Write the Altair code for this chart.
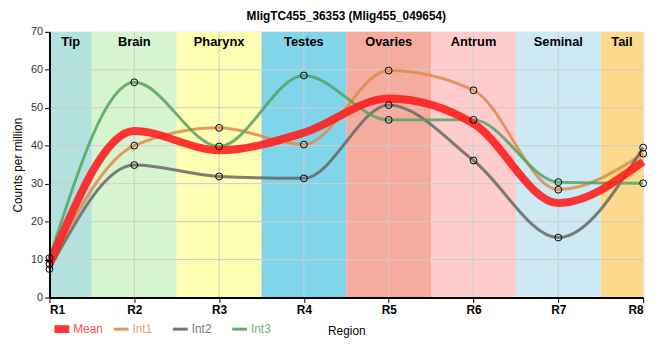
import altair as alt
import pandas as pd

# ---- data ----
regions = ["R1", "R2", "R3", "R4", "R5", "R6", "R7", "R8"]
tissues = ["Tip", "Brain", "Pharynx", "Testes", "Ovaries", "Antrum", "Seminal", "Tail"]
tissue_colors = ["#b3e2de", "#d6f5cf", "#feffb3", "#80d5eb",
                 "#f5ac9f", "#fdcdcd", "#cdeaf4", "#fdd98c"]
int1 = [8.8, 40.0, 44.7, 40.3, 59.8, 54.6, 28.4, 37.9]
int2 = [7.5, 34.9, 31.9, 31.4, 50.7, 36.1, 15.8, 39.5]
int3 = [10.4, 56.7, 39.8, 58.5, 46.8, 46.8, 30.4, 30.1]
series_names = ["Int1", "Int2", "Int3"]
series_colors = ["#e08a48", "#676767", "#55a163"]
legend_text_colors = ["#ff5252", "#e9a06c", "#777777", "#6aae78"]
mean_name = "Mean"
mean_color = "#ff1f1f"
y_ticks = [0, 10, 20, 30, 40, 50, 60, 70]
title_text = "MligTC455_36353 (Mlig455_049654)"

n = len(regions)
idx = list(range(1, n + 1))
series_vals = [int1, int2, int3]
mean_vals = [sum(v[i] for v in series_vals) / len(series_vals) for i in range(n)]

long_df = pd.DataFrame(
    [{"x": idx[i], "value": vals[i], "series": name}
     for name, vals in zip(series_names, series_vals) for i in range(n)]
)
mean_df = pd.DataFrame({"x": idx, "value": mean_vals})
band_df = pd.DataFrame({
    "tissue": tissues,
    "start": [max(1, i - 0.5) for i in idx],
    "end": [min(n, i + 0.5) for i in idx],
})
band_df["mid"] = (band_df["start"] + band_df["end"]) / 2
ygrid_df = pd.DataFrame({"y": y_ticks[1:-1]})
xgrid_df = pd.DataFrame({"x": idx[1:-1]})

label_expr = "[" + ",".join(f"'{r}'" for r in regions) + "][datum.value-1]"
xscale = alt.Scale(domain=[1, n], nice=False, zero=False)
yscale = alt.Scale(domain=[0, 70], nice=False)

x_axis = alt.Axis(values=idx, labelExpr=label_expr, grid=False, title="Region",
                  labelFontSize=12, labelFontWeight="bold", labelColor="#000",
                  titleFontSize=12, titleFontWeight="normal", titleColor="#000",
                  titlePadding=10, tickColor="#000", tickSize=5, labelPadding=2,
                  domainColor="#000", domainWidth=2, zindex=1)
y_axis = alt.Axis(values=y_ticks, grid=False, title="Counts per million",
                  labelFontSize=11, labelColor="#333", titleFontSize=12,
                  titleFontWeight="normal", titleColor="#000", titlePadding=6,
                  tickColor="#000", tickSize=5, labelPadding=2, labelOverlap=False,
                  domainColor="#000", domainWidth=2, zindex=1)


def X(field):
    return alt.X(field, scale=xscale, axis=x_axis)


def Y(field):
    return alt.Y(field, scale=yscale, axis=y_axis)


color_scale = alt.Scale(domain=tissues, range=tissue_colors)
bands = alt.Chart(band_df).mark_rect().encode(
    x=X("start:Q"),
    x2="end:Q",
    y=alt.value(0),
    y2=alt.value(269),
    color=alt.Color("tissue:N", scale=color_scale, legend=None),
)
band_labels = alt.Chart(band_df).mark_text(
    fontSize=13, fontWeight="bold", color="#000", baseline="middle"
).encode(x=X("mid:Q"), y=alt.value(10), text="tissue:N")

ygrid = alt.Chart(ygrid_df).mark_rule(color="#cccccc", strokeWidth=1).encode(
    y=Y("y:Q"))
xgrid = alt.Chart(xgrid_df).mark_rule(color="#cccccc", strokeWidth=1).encode(
    x=X("x:Q"))

series_layers = []
for name, col in zip(series_names, series_colors):
    sdf = long_df[long_df["series"] == name]
    series_layers.append(
        alt.Chart(sdf).mark_line(
            interpolate="monotone", strokeWidth=3, opacity=0.85, color=col
        ).encode(x=X("x:Q"), y=Y("value:Q"))
    )
mean_line = alt.Chart(mean_df).mark_line(
    interpolate="monotone", strokeWidth=8, opacity=0.9, color=mean_color
).encode(x=X("x:Q"), y=Y("value:Q"))
points = alt.Chart(long_df).mark_point(
    filled=False, color="#000", strokeWidth=1, size=48, opacity=1
).encode(x=X("x:Q"), y=Y("value:Q"))

# ---- custom legend below the plot ----
one = pd.DataFrame({"a": [0]})
legend_layers = []
leg_y = 301
legend_items = [(mean_name, mean_color)] + list(zip(series_names, series_colors))
for k, ((name, col), tcol) in enumerate(zip(legend_items, legend_text_colors)):
    x0 = 5 + 60 * k
    if k == 0:
        sym = alt.Chart(one).mark_rect(color="#ff3535").encode(
            x=alt.value(x0), x2=alt.value(x0 + 15),
            y=alt.value(leg_y - 4), y2=alt.value(leg_y + 4))
    else:
        sym = alt.Chart(one).mark_rule(color=col, strokeWidth=3, opacity=0.9).encode(
            x=alt.value(x0), x2=alt.value(x0 + 15), y=alt.value(leg_y))
    txt = alt.Chart(one).mark_text(
        align="left", baseline="middle", fontSize=12, color=tcol
    ).encode(x=alt.value(x0 + 19), y=alt.value(leg_y), text=alt.value(name))
    legend_layers += [sym, txt]

chart = alt.layer(
    bands, ygrid, xgrid, band_labels, *series_layers, mean_line, points,
    *legend_layers
).properties(
    width=601, height=269,
    title=alt.TitleParams(title_text, fontSize=12, fontWeight="bold",
                          anchor="middle", offset=3, color="#000"),
    autosize=alt.AutoSizeParams(type="none"),
    padding={"left": 42, "top": 22, "right": 9, "bottom": 50},
).configure_view(
    stroke="#000", strokeWidth=2
).configure(font="Liberation Sans")

chart.save("out.html", embed_options={"renderer": "svg", "actions": False})
